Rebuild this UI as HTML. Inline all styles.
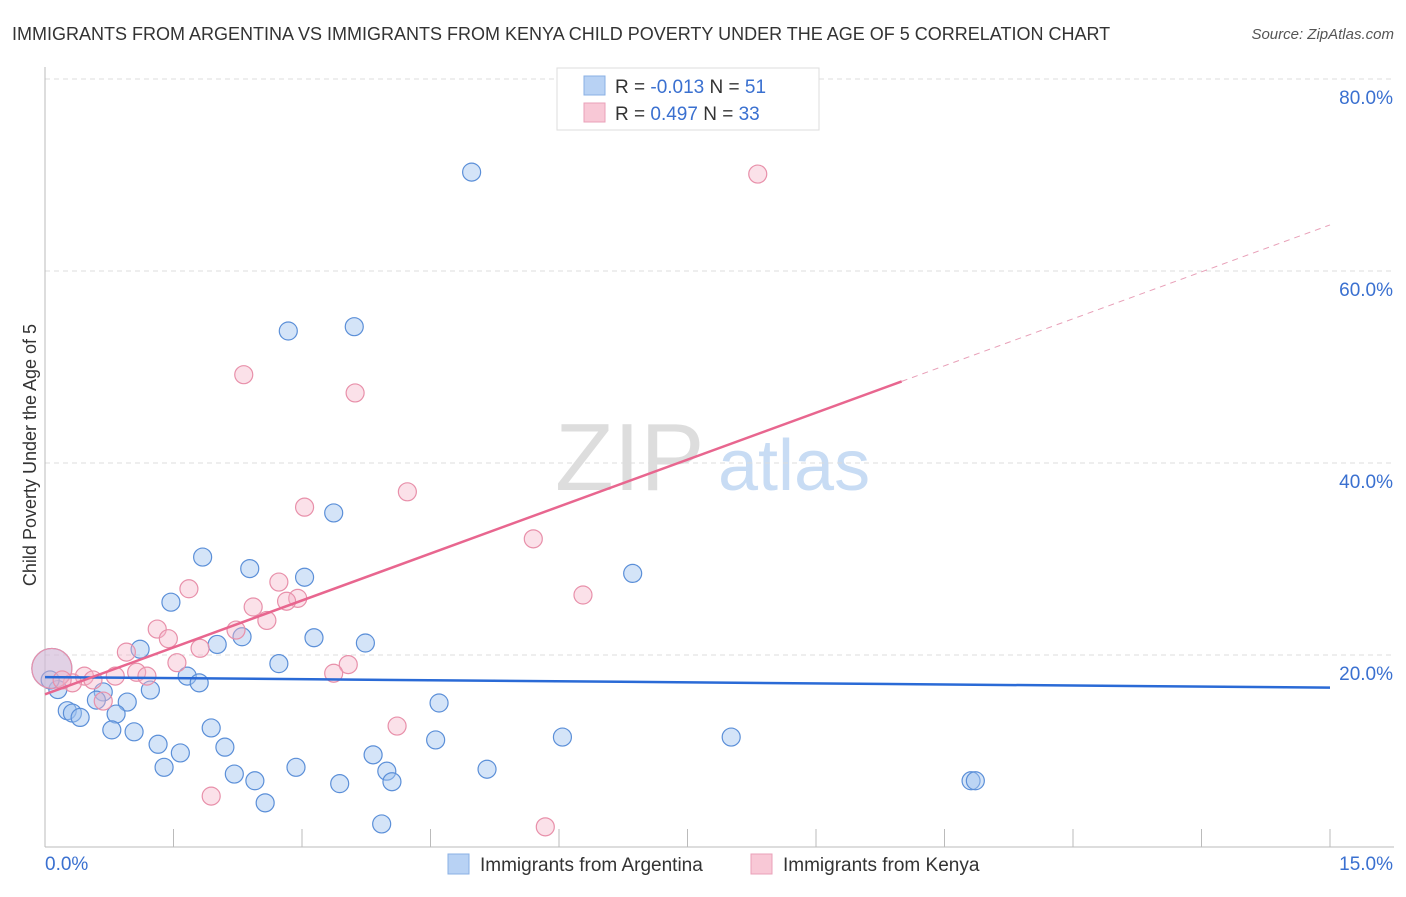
<!DOCTYPE html>
<html><head><meta charset="utf-8"><style>
body{margin:0;background:#fff;font-family:"Liberation Sans",sans-serif;}
svg text{font-family:"Liberation Sans",sans-serif;}
</style></head><body>
<svg id="c" width="1406" height="892" xmlns="http://www.w3.org/2000/svg">
<text x="12" y="40" font-size="18" fill="#333">IMMIGRANTS FROM ARGENTINA VS IMMIGRANTS FROM KENYA CHILD POVERTY UNDER THE AGE OF 5 CORRELATION CHART</text>
<text x="1394" y="39" font-size="15" fill="#555" font-style="italic" text-anchor="end">Source: ZipAtlas.com</text>
<text x="36" y="455" font-size="18" fill="#333" text-anchor="middle" transform="rotate(-90 36 455)">Child Poverty Under the Age of 5</text>
<g><text x="555" y="490" font-size="96" fill="#ddd" font-family="Liberation Serif">ZIP</text><text x="718" y="490" font-size="72" fill="#c8dcf4">atlas</text></g>
<g id="grid"></g><g id="axes"></g><g id="pts"></g><g id="lines"></g>
<g>
<rect x="557" y="68" width="262" height="62" fill="#fff" stroke="#ddd"/>
<rect x="584" y="76" width="21" height="19" fill="#b8d2f4" stroke="#8ab0e4"/>
<rect x="584" y="103" width="21" height="19" fill="#f8c8d6" stroke="#eaa0b8"/>
<text x="615" y="93" font-size="19" fill="#333">R = <tspan fill="#3a70d0">-0.013</tspan>    N = <tspan fill="#3a70d0"> 51</tspan></text>
<text x="615" y="120" font-size="19" fill="#333">R =  <tspan fill="#3a70d0"> 0.497</tspan>    N = <tspan fill="#3a70d0">33</tspan></text>
</g>
<g>
<rect x="448" y="854" width="21" height="20" fill="#b8d2f4" stroke="#8ab0e4"/>
<text x="480" y="871" font-size="19" fill="#333">Immigrants from Argentina</text>
<rect x="751" y="854" width="21" height="20" fill="#f8c8d6" stroke="#eaa0b8"/>
<text x="783" y="871" font-size="19" fill="#333">Immigrants from Kenya</text>
</g>
</svg>
<script>
const blueX=[4.98,2.84,3.61,3.37,1.84,2.39,3.03,1.47,6.86,3.14,3.74,2.01,2.30,1.11,2.73,1.66,1.80,1.23,0.68,0.60,0.96,0.26,0.32,0.41,0.83,4.60,0.78,1.04,1.94,1.32,1.58,2.10,4.56,6.04,8.01,1.39,2.93,2.21,3.83,3.99,5.16,2.45,3.44,4.05,10.81,10.86,2.57,3.93,0.08,0.15,0.06];
const blueY=[70.3,53.75,54.2,34.8,30.2,29.0,28.1,25.5,28.5,21.8,21.25,21.1,21.9,20.6,19.1,17.8,17.1,16.35,16.15,15.3,15.1,14.2,13.95,13.5,13.85,15.0,12.2,12.0,12.4,10.7,9.8,10.4,11.15,11.45,11.45,8.3,8.3,7.6,9.6,7.9,8.1,6.9,6.6,6.8,6.9,6.9,4.6,2.4,18.6,16.4,17.4];
const pinkX=[8.32,2.32,3.62,4.23,3.03,5.70,6.28,1.68,2.73,2.43,2.95,2.82,2.59,1.31,1.44,2.23,0.95,1.81,1.54,1.07,1.19,3.54,3.37,0.46,0.56,0.32,0.68,4.11,1.94,5.84,0.08,0.20,0.82];
const pinkY=[70.1,49.2,47.3,37.0,35.4,32.1,26.25,26.9,27.6,25.0,25.9,25.6,23.6,22.7,21.7,22.6,20.3,20.7,19.2,18.2,17.8,19.0,18.1,17.8,17.4,17.1,15.2,12.6,5.3,2.1,18.6,17.4,17.8];
const blueTrend=[17.7,-0.0733];
const pinkTrend=[15.9,3.26];
const yTicks=[20,40,60,80];
const xTickLabels=["0.0%","15.0%"];
const NS="http://www.w3.org/2000/svg";
const sx=v=>45+v/15*1285, sy=v=>847-v*9.6;
function mk(t,a,p){const e=document.createElementNS(NS,t);for(const k in a)e.setAttribute(k,a[k]);document.getElementById(p).appendChild(e);return e;}
yTicks.forEach(v=>{
 const l=mk('line',{x1:45,x2:1394,y1:sy(v),y2:sy(v),stroke:'#ddd','stroke-dasharray':'5,4'},'grid');
 
 
 const t=mk('text',{x:1393,y:sy(v)+25,'font-size':19,fill:'#3a70d0','text-anchor':'end'},'grid');
 t.textContent=v.toFixed(1)+'%';
 
 
});
let ax=mk('line',{x1:45,x2:45,y1:67,y2:847,stroke:'#bbb'},'axes');


ax=mk('line',{x1:45,x2:1394,y1:847,y2:847,stroke:'#bbb'},'axes');


for(let i=1;i<=10;i++){const l=mk('line',{x1:sx(i*1.5),x2:sx(i*1.5),y1:829,y2:847,stroke:'#bbb'},'axes');
 
 }
let t=mk('text',{x:45,y:870,'font-size':19,fill:'#3a70d0'},'axes');t.textContent=xTickLabels[0];


t=mk('text',{x:1393,y:870,'font-size':19,fill:'#3a70d0','text-anchor':'end'},'axes');t.textContent=xTickLabels[1];


function pts(X,Y,fill,stroke,name){X.forEach((x,i)=>{const big=(x<0.1&&Math.abs(Y[i]-18.6)<0.01);
 const c=mk('circle',{cx:sx(x),cy:sy(Y[i]),r:big?20:9,fill:fill,stroke:stroke,'stroke-width':1.2},'pts');
 
 });}
pts(blueX,blueY,'rgba(160,196,240,0.45)','#5b8fd8','argentina-point');
pts(pinkX,pinkY,'rgba(245,180,200,0.4)','#e890aa','kenya-point');
let l=mk('line',{x1:sx(0),y1:sy(blueTrend[0]),x2:sx(15),y2:sy(blueTrend[0]+15*blueTrend[1]),stroke:'#2a6ad6','stroke-width':2.5},'lines');


l=mk('line',{x1:sx(0),y1:sy(pinkTrend[0]),x2:sx(10),y2:sy(pinkTrend[0]+10*pinkTrend[1]),stroke:'#e8668f','stroke-width':2.5},'lines');


l=mk('line',{x1:sx(10),y1:sy(pinkTrend[0]+10*pinkTrend[1]),x2:sx(15),y2:sy(pinkTrend[0]+15*pinkTrend[1]),stroke:'#e8a0b8','stroke-width':1,'stroke-dasharray':'6,5'},'lines');


</script>
</body></html>
